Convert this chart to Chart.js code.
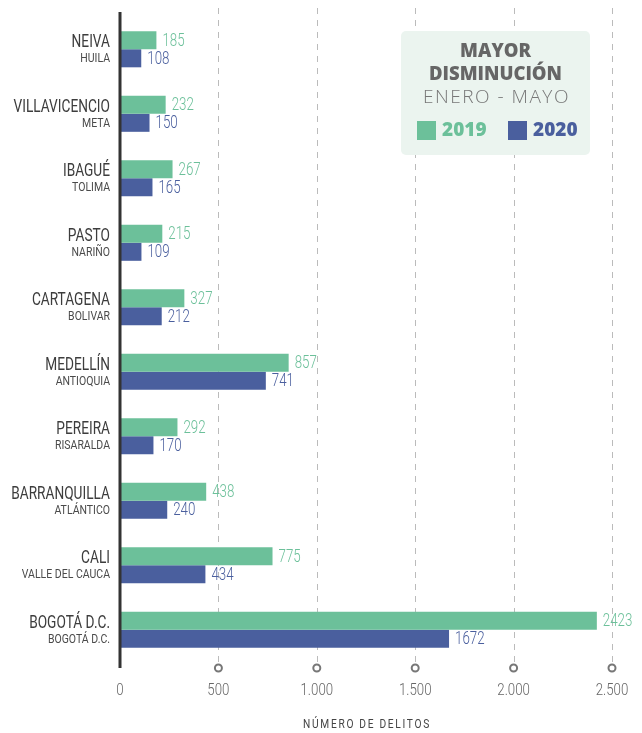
<!DOCTYPE html>
<html>
<head>
<meta charset="utf-8">
<script src="https://cdn.jsdelivr.net/npm/chart.js@4"></script>
<style>
  body { margin: 0; background: #fff; }
  #wrap { width: 642px; height: 733px; }
</style>
</head>
<body>
<div id="wrap"><canvas id="chart" width="642" height="733"></canvas></div>
<script>
const cities = ['NEIVA', 'VILLAVICENCIO', 'IBAGUÉ', 'PASTO', 'CARTAGENA', 'MEDELLÍN', 'PEREIRA', 'BARRANQUILLA', 'CALI', 'BOGOTÁ D.C.'];
const departments = ['HUILA', 'META', 'TOLIMA', 'NARIÑO', 'BOLIVAR', 'ANTIOQUIA', 'RISARALDA', 'ATLÁNTICO', 'VALLE DEL CAUCA', 'BOGOTÁ D.C.'];
const values2019 = [185, 232, 267, 215, 327, 857, 292, 438, 775, 2423];
const values2020 = [108, 150, 165, 109, 212, 741, 170, 240, 434, 1672];
const xTicks = [0, 500, 1000, 1500, 2000, 2500];
const xTickLabels = ['0', '500', '1.000', '1.500', '2.000', '2.500'];

const GREEN = '#6cc09a';
const BLUE = '#4a5f9e';
const SANS = 'Roboto, sans-serif';
const LEGEND_FONT = '"Open Sans", sans-serif';

// no condensed face installed, so squeeze the text horizontally
function narrowText(ctx, text, x, y, sx, align) {
  ctx.save();
  ctx.translate(x, y);
  ctx.scale(sx, 1);
  ctx.textAlign = align;
  ctx.fillText(text, 0, 0);
  ctx.restore();
}

// grid, axis line, circles, labels and the legend box
const decor = {
  id: 'decor',
  beforeDatasetsDraw(chart) {
    const { ctx, chartArea, scales } = chart;
    const x = scales.x;
    ctx.save();
    ctx.strokeStyle = '#bbbbbb';
    ctx.lineWidth = 1;
    ctx.setLineDash([6, 6]);
    xTicks.slice(1).forEach(v => {
      const px = Math.round(x.getPixelForValue(v)) + 0.5;
      ctx.beginPath();
      ctx.moveTo(px, 8);
      ctx.lineTo(px, chartArea.bottom);
      ctx.stroke();
    });
    ctx.restore();
  },
  afterDatasetsDraw(chart) {
    const { ctx, chartArea, scales } = chart;
    const x = scales.x, y = scales.y;
    ctx.save();
    ctx.textBaseline = 'middle';

    // axis line
    ctx.strokeStyle = '#333333';
    ctx.lineWidth = 3;
    ctx.beginPath();
    ctx.moveTo(chartArea.left, 12);
    ctx.lineTo(chartArea.left, chartArea.bottom + 6);
    ctx.stroke();

    // circles and tick labels
    xTicks.forEach((v, i) => {
      const px = x.getPixelForValue(v);
      if (i > 0) {
        ctx.strokeStyle = '#777777';
        ctx.lineWidth = 2;
        ctx.beginPath();
        ctx.arc(px, chartArea.bottom + 6, 3.5, 0, Math.PI * 2);
        ctx.stroke();
      }
      ctx.fillStyle = '#666666';
      ctx.font = '300 17px ' + SANS;
      narrowText(ctx, xTickLabels[i], px, chartArea.bottom + 29, 0.78, 'center');
    });

    // axis title
    ctx.fillStyle = '#444444';
    ctx.font = '12px ' + SANS;
    ctx.letterSpacing = '2px';
    narrowText(ctx, 'NÚMERO DE DELITOS', (chartArea.left + chartArea.right) / 2 + 1, 725, 0.85, 'center');
    ctx.letterSpacing = '0px';

    // category labels
    cities.forEach((c, i) => {
      const py = y.getPixelForValue(i);
      ctx.fillStyle = '#3d3d3d';
      ctx.font = '19px ' + SANS;
      narrowText(ctx, c, chartArea.left - 10, py - 7, 0.72, 'right');
      ctx.fillStyle = '#4a4a4a';
      ctx.font = '12.5px ' + SANS;
      narrowText(ctx, departments[i], chartArea.left - 10, py + 10, 0.84, 'right');
    });

    // value labels
    ctx.font = '300 18px ' + SANS;
    [[0, GREEN], [1, BLUE]].forEach(([d, color]) => {
      const meta = chart.getDatasetMeta(d);
      ctx.fillStyle = color;
      meta.data.forEach((bar, i) => {
        narrowText(ctx, String(chart.data.datasets[d].data[i]), bar.x + 6, bar.y + 1, 0.74, 'left');
      });
    });

    // legend box
    const bx = 401, by = 31, bw = 189, bh = 124;
    ctx.fillStyle = '#ebf4ef';
    ctx.beginPath();
    ctx.roundRect(bx, by, bw, bh, 5);
    ctx.fill();
    ctx.textAlign = 'center';
    ctx.fillStyle = '#666666';
    ctx.font = '800 18.5px ' + LEGEND_FONT;
    ctx.fillText('MAYOR', bx + bw / 2, 52);
    ctx.fillText('DISMINUCIÓN', bx + bw / 2, 75);
    ctx.fillStyle = '#777777';
    ctx.font = '300 19px ' + LEGEND_FONT;
    ctx.letterSpacing = '1.5px';
    ctx.fillText('ENERO - MAYO', bx + bw / 2 + 1, 98);
    ctx.letterSpacing = '0px';
    ctx.textAlign = 'left';
    ctx.fillStyle = GREEN;
    ctx.fillRect(417, 121, 19, 19);
    ctx.font = '800 19px ' + LEGEND_FONT;
    ctx.fillText('2019', 442, 131);
    ctx.fillStyle = BLUE;
    ctx.fillRect(508, 121, 19, 19);
    ctx.fillText('2020', 533, 131);

    ctx.restore();
  }
};

new Chart(document.getElementById('chart'), {
  type: 'bar',
  data: {
    labels: cities,
    datasets: [
      { label: '2019', data: values2019, backgroundColor: GREEN },
      { label: '2020', data: values2020, backgroundColor: BLUE }
    ]
  },
  options: {
    indexAxis: 'y',
    responsive: false,
    animation: false,
    events: [],
    layout: { padding: { left: 120, right: 30, top: 17, bottom: 71 } },
    datasets: { bar: { categoryPercentage: 0.56, barPercentage: 1 } },
    scales: {
      x: { min: 0, max: 2500, display: false },
      y: { display: false }
    },
    plugins: {
      legend: { display: false },
      tooltip: { enabled: false }
    }
  },
  plugins: [decor]
});
</script>
</body>
</html>
